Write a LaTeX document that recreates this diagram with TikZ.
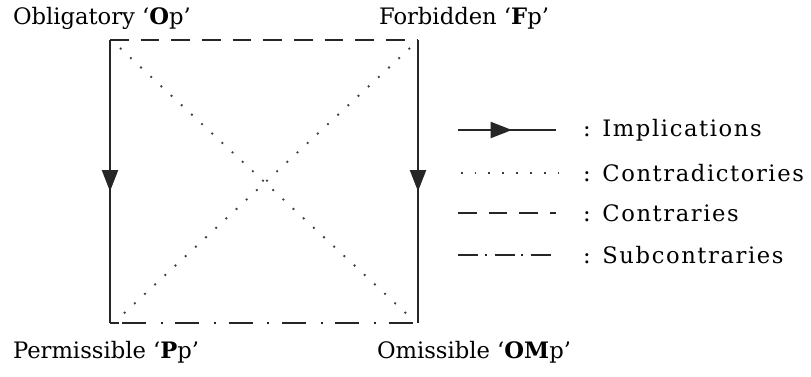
\documentclass[tikz,border=0pt]{standalone}
\usepackage{fontspec}
\setmainfont{DejaVu Serif}
\newfontfamily\keyfont[LetterSpace=7]{DejaVu Serif}
\usetikzlibrary{arrows.meta, positioning, calc}

\begin{document}
\begin{tikzpicture}[x=0.75pt, y=-0.75pt, line width=1.5pt]

        % -----------------------------------------------------------------
        % STYLES
        % -----------------------------------------------------------------
        \tikzset{
            lbl/.style={inner sep=0pt, anchor=west, font=\fontsize{17}{19}\selectfont},
            keylbl/.style={lbl, font=\keyfont\fontsize{17}{19}\selectfont},
            implic/.style={draw=black!85, -{Triangle[length=16pt, width=12pt]}},
            plain/.style={draw=black!85},
            contradict/.style={draw=black!75, line width=1.4pt, dash pattern=on 1.4pt off 9pt},
            contrary/.style={draw=black!85, dash pattern=on 14pt off 9pt},
            subcon/.style={draw=black!85, dash pattern=on 18pt off 11pt on 1.5pt off 9.5pt}
        }

        \useasboundingbox (0,0) rectangle (811,376);

        % Corners of the square
        \coordinate (ob) at (110, 40);
        \coordinate (fb) at (418, 40);
        \coordinate (pm) at (110, 323);
        \coordinate (om) at (418, 323);

        % Corner labels
        \node (lob) [lbl] at (12, 18) {Obligatory `\textbf{O}p'};
        \node (lfb) [lbl] at (378, 18) {Forbidden `\textbf{F}p'};
        \node (lpm) [lbl] at (12, 352) {Permissible `\textbf{P}p'};
        \node (lom) [lbl] at (376, 352) {Omissible `\textbf{OM}p'};

        % =================================================================
        % SQUARE
        % =================================================================

        % Implications
        \draw[implic] (ob) -- ($(ob)!0.535!(pm)$);
        \draw[plain] ($(ob)!0.5!(pm)$) -- (pm);
        \draw[implic] (fb) -- ($(fb)!0.535!(om)$);
        \draw[plain] ($(fb)!0.5!(om)$) -- (om);

        % Contraries and subcontraries
        \draw[contrary] (ob) -- (fb);
        \draw[subcon] ([xshift=9pt]pm) -- (om);
        \draw[plain] (pm) -- ++(9,0);

        % Contradictories
        \draw[contradict] ($(ob)+(10,8)$) -- ($(om)+(-8,-6)$);
        \draw[contradict] ($(fb)+(-8,8)$) -- ($(pm)+(10,-6)$);

        % =================================================================
        % LEGEND
        % =================================================================
        \coordinate (k1) at (458, 130);
        \coordinate (k2) at (458, 173);
        \coordinate (k3) at (458, 213);
        \coordinate (k4) at (458, 255);

        \draw[implic] (k1) -- ++(54,0);
        \draw[plain] (k1) -- ++(98,0);
        \draw[contradict] ([xshift=2]k2) -- ++(98,0);
        \draw[contrary] (k3) -- ++(98,0);
        \draw[subcon, dash pattern=on 15pt off 5pt on 1.4pt off 6pt] (k4) -- ++(98,0);

        \node (t1) [keylbl] at (582, 130) {: Implications};
        \node (t2) [keylbl] at (582, 173) {: Contradictories};
        \node (t3) [keylbl] at (582, 213) {: Contraries};
        \node (t4) [keylbl] at (582, 255) {: Subcontraries};

\end{tikzpicture}
\end{document}
